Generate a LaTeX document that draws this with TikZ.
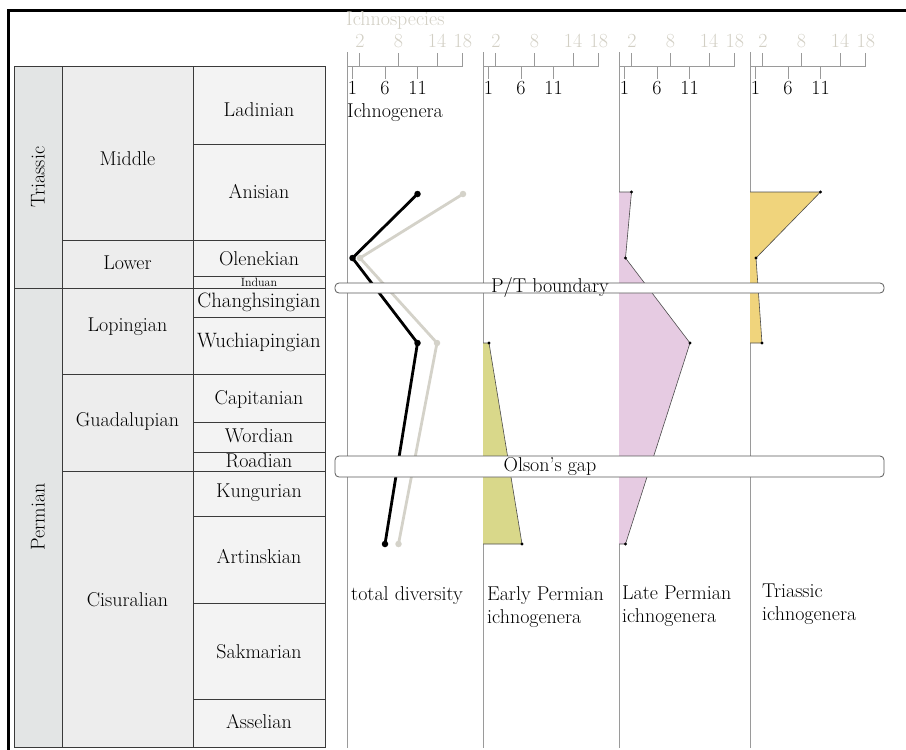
\documentclass[tikz,border=0pt]{standalone}
\usepackage{fontspec}
\setmainfont{Latin Modern Roman}
\usetikzlibrary{calc}
\definecolor{perfill}{HTML}{E3E5E5}
\definecolor{epofill}{HTML}{EDEDED}
\definecolor{stgfill}{HTML}{F3F3F3}
\definecolor{cellline}{HTML}{3A3A3A}
\definecolor{axgrey}{HTML}{9A9A9A}
\definecolor{spgrey}{HTML}{D2CFC4}
\definecolor{spline}{HTML}{D4D2C9}
\definecolor{ygreen}{HTML}{D9D88A}
\definecolor{lpink}{HTML}{E6CBE2}
\definecolor{lorange}{HTML}{F0D47C}
\tikzset{
  lab/.style={font=\fontsize{20}{23}\selectfont, inner sep=0pt, text=black},
  widelab/.style={font=\fontsize{20.8}{23}\selectfont, inner sep=0pt, text=black},
  smalllab/.style={font=\fontsize{12}{14}\selectfont, inner sep=0pt},
  splab/.style={lab, text=spgrey},
  cellbox/.style={draw=cellline, line width=0.8pt},
  axline/.style={draw=axgrey, line width=0.9pt},
  genline/.style={line width=2.8pt, draw=black, line join=round},
  spcline/.style={line width=2.8pt, draw=spline, line join=round},
  bigdot/.style={circle, inner sep=0pt, minimum size=6.5pt},
  smalldot/.style={circle, fill=black, inner sep=0pt, minimum size=3.2pt},
  areaedge/.style={draw=black!70, line width=0.6pt},
  barbox/.style={draw=black!65, fill=white, rounded corners=4pt, line width=0.8pt},
}
\begin{document}
\begin{tikzpicture}[x=1pt,y=-1pt]
\useasboundingbox (0,0) rectangle (906,750);
% frame
\draw[line width=3pt] (906,10) -- (8,10) -- (8,750);

% ---------------- stratigraphic table ----------------
% period column
\draw[cellbox, fill=perfill] (14,66) rectangle (62,288);
\draw[cellbox, fill=perfill] (14,288) rectangle (62,747);
\node[lab, rotate=90] (triassic) at (38,177) {Triassic};
\node[lab, rotate=90] (permian) at (38,517) {Permian};
% epoch column
\draw[cellbox, fill=epofill] (62,66) rectangle (193,240);
\draw[cellbox, fill=epofill] (62,240) rectangle (193,288);
\draw[cellbox, fill=epofill] (62,288) rectangle (193,374);
\draw[cellbox, fill=epofill] (62,374) rectangle (193,471);
\draw[cellbox, fill=epofill] (62,471) rectangle (193,747);
\node[lab] (middle) at (127.5,159) {Middle};
\node[lab] (lower) at (127.5,263) {Lower};
\node[lab] (lopingian) at (127.5,327) {Lopingian};
\node[lab] (guadalupian) at (127.5,421) {Guadalupian};
\node[lab] (cisuralian) at (127.5,600) {Cisuralian};
% stage column
\foreach \a/\b in {66/144,144/240,240/276,276/288,288/317,317/374,374/422,422/452,452/471,471/516,516/603,603/699,699/747}
  \draw[cellbox, fill=stgfill] (193,\a) rectangle (325,\b);
\node[lab] (ladinian) at (259,110) {Ladinian};
\node[lab] (anisian) at (259,192) {Anisian};
\node[lab] (olenekian) at (259,259) {Olenekian};
\node[smalllab] (induan) at (259,282) {Induan};
\node[widelab] (changh) at (259,302) {Changhsingian};
\node[widelab] (wuchia) at (259,342) {Wuchiapingian};
\node[lab] (capitan) at (259,399) {Capitanian};
\node[lab] (wordian) at (259,436) {Wordian};
\node[lab] (roadian) at (259,461) {Roadian};
\node[lab] (kungur) at (259,493) {Kungurian};
\node[lab] (artinsk) at (259,557) {Artinskian};
\node[lab] (sakmar) at (259,652) {Sakmarian};
\node[lab] (asselian) at (259,722) {Asselian};

% ---------------- panel axes ----------------
\foreach \p/\x in {1/347,2/483,3/619,4/750}{
  \draw[axline] (\x,52) -- (\x,748);
  \draw[axline] (\x,66) -- ({\x+116},66);
  \foreach \s in {2,8,14,18}{
    \draw[axline] ({\x+6.44*\s},66) -- ({\x+6.44*\s},53);
    \node[splab] (sp\p-\s) at ({\x+6.44*\s},41) {\s};
  }
  \foreach \g in {1,6,11}{
    \draw[axline] ({\x+6.5*\g-1},66) -- ({\x+6.5*\g-1},79);
    \node[lab, anchor=north] (gn\p-\g) at ({\x+6.5*\g-1},81.5) {\g};
  }
}
\node[splab, anchor=west] (ichnospecies) at (346,21) {Ichnospecies};
\node[lab, anchor=west] (ichnogenera) at (347,113) {Ichnogenera};

% ---------------- data: total diversity ----------------
\coordinate (ga) at (417.5,194);
\coordinate (gb) at (352.5,258);
\coordinate (gc) at (417.5,343);
\coordinate (gd) at (385,544);
\coordinate (sa) at (463,194);
\coordinate (sb) at (360,258);
\coordinate (sc) at (437,343);
\coordinate (sd) at (398.5,544);
\draw[spcline] (sa) -- (sb) -- (sc) -- (sd);
\foreach \c in {sa,sb,sc,sd} \node[bigdot, fill=spline] at (\c) {};
\draw[genline] (ga) -- (gb) -- (gc) -- (gd);
\foreach \c in {ga,gb,gc,gd} \node[bigdot, fill=black] at (\c) {};

% ---------------- Early Permian ichnogenera ----------------
\coordinate (ea) at (489,343);
\coordinate (eb) at (522,544);
\fill[ygreen] (483,343) -- (ea) -- (eb) -- (483,544) -- cycle;
\draw[areaedge] (483,343) -- (ea) -- (eb) -- (483,544);
\foreach \c in {ea,eb} \node[smalldot] at (\c) {};

% ---------------- Late Permian ichnogenera ----------------
\coordinate (la) at (631.5,192);
\coordinate (lb) at (625.5,258);
\coordinate (lc) at (690,343);
\coordinate (ld) at (625.5,544);
\fill[lpink] (619,192) -- (la) -- (lb) -- (lc) -- (ld) -- (619,544) -- cycle;
\draw[areaedge] (619,192) -- (la) -- (lb) -- (lc) -- (ld) -- (619,544);
\foreach \c in {la,lb,lc,ld} \node[smalldot] at (\c) {};

% ---------------- Triassic ichnogenera ----------------
\coordinate (ta) at (820.5,192);
\coordinate (tb) at (756,258);
\coordinate (tc) at (762,343);
\fill[lorange] (750,192) -- (ta) -- (tb) -- (tc) -- (750,343) -- cycle;
\draw[areaedge] (750,192) -- (ta) -- (tb) -- (tc) -- (750,343);
\foreach \c in {ta,tb,tc} \node[smalldot] at (\c) {};

% ---------------- boundary bars ----------------
\draw[barbox] (335,283) rectangle (884,293);
\node[lab] (ptb) at (550,287) {P/T boundary};
\draw[barbox] (335,456) rectangle (884,477);
\node[lab] (olson) at (550,467) {Olson’s gap};

% ---------------- panel captions ----------------
\node[lab, anchor=west] (cap1) at (351,596) {total diversity};
\node[lab, anchor=north west, align=left] (cap2) at (487,586) {Early Permian\\ichnogenera};
\node[lab, anchor=north west, align=left] (cap3) at (622,586) {Late Permian\\ichnogenera};
\node[lab, anchor=north west, align=left] (cap4) at (762,584) {Triassic\\ichnogenera};
\end{tikzpicture}
\end{document}
